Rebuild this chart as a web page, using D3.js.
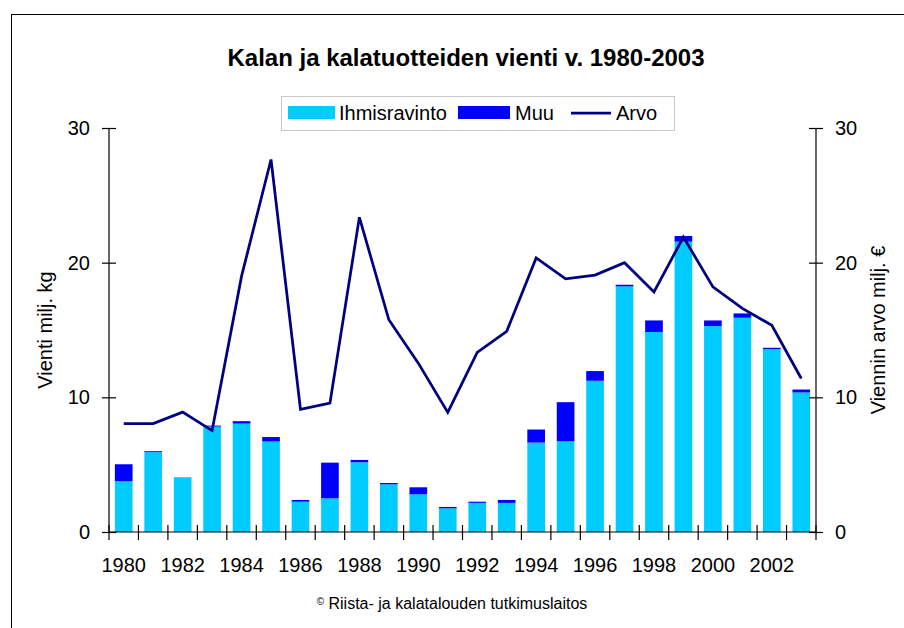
<!DOCTYPE html>
<html>
<head>
<meta charset="utf-8">
<script src="https://cdn.jsdelivr.net/npm/d3@7"></script>
<style>
  body { margin: 0; background: #fff; }
  svg text { font-family: "Liberation Sans", Arial, sans-serif; fill: #000; }
</style>
</head>
<body>
<script>
//chart data
var years = ["1980","1981","1982","1983","1984","1985","1986","1987","1988","1989","1990","1991",
             "1992","1993","1994","1995","1996","1997","1998","1999","2000","2001","2002","2003"];
var yearLabels = ["1980","1982","1984","1986","1988","1990","1992","1994","1996","1998","2000","2002"];
var ihmisravinto = [3.77, 5.93, 4.07, 7.83, 8.05, 6.72, 2.25, 2.5, 5.18, 3.54, 2.8, 1.76,
                    2.16, 2.16, 6.64, 6.74, 11.23, 18.24, 14.85, 21.56, 15.29, 15.91, 13.58, 10.36];
var muu = [1.26, 0.07, 0, 0.07, 0.18, 0.33, 0.13, 2.65, 0.17, 0.1, 0.52, 0.1,
           0.09, 0.22, 0.97, 2.9, 0.72, 0.12, 0.86, 0.42, 0.42, 0.32, 0.1, 0.22];
var arvo = [8.05, 8.05, 8.9, 7.53, 19.0, 27.66, 9.1, 9.57, 23.37, 15.76, 12.54, 8.88,
            13.33, 14.9, 20.35, 18.8, 19.08, 20.0, 17.83, 21.9, 18.2, 16.6, 15.35, 11.4];
var yTicks = [0, 10, 20, 30];

var width = 904, height = 628;
var plotLeft = 109, plotRight = 816, plotTop = 128, plotBottom = 532;

var svg = d3.select("body").append("svg")
    .attr("width", width)
    .attr("height", height);

//outer frame
svg.append("rect")
    .attr("x", 11.5).attr("y", 14.5)
    .attr("width", 910).attr("height", 630)
    .attr("fill", "none").attr("stroke", "#000").attr("stroke-width", 1);

var x = d3.scaleBand().domain(years).range([plotLeft, plotRight]).paddingInner(0.4).paddingOuter(0.2);
var xb = d3.scaleBand().domain(years).range([plotLeft, plotRight]); //full band, for tick positions
var yL = d3.scaleLinear().domain([0, 30]).range([plotBottom, plotTop]);
var yR = d3.scaleLinear().domain([0, 30]).range([plotBottom, plotTop]);

//stacked bars
var rows = years.map(function(y, i){ return {year: y, ihmis: ihmisravinto[i], muu: muu[i]}; });
var stack = d3.stack().keys(["ihmis", "muu"])(rows);
var colors = {ihmis: "#00CCFF", muu: "#0000FF"};

svg.selectAll(".layer")
    .data(stack)
    .enter().append("g")
    .attr("fill", function(d){ return colors[d.key]; })
    .selectAll("rect")
    .data(function(d){ return d; })
    .enter().append("rect")
    .attr("x", function(d){ return x(d.data.year); })
    .attr("width", x.bandwidth())
    .attr("y", function(d){ return yL(d[1]); })
    .attr("height", function(d){ return yL(d[0]) - yL(d[1]); });

//value line
var line = d3.line()
    .x(function(d, i){ return xb(years[i]) + xb.bandwidth() / 2; })
    .y(function(d){ return yR(d); });

svg.append("path")
    .datum(arvo)
    .attr("d", line)
    .attr("fill", "none")
    .attr("stroke", "#000080")
    .attr("stroke-width", 2.75)
    .attr("stroke-linejoin", "miter");

//left axis
var gL = svg.append("g")
    .attr("transform", "translate(" + plotLeft + ",0)")
    .call(d3.axisLeft(yL).tickValues(yTicks).tickSize(7).tickPadding(12));
gL.select(".domain").attr("d", "M0," + plotTop + "V" + plotBottom);
gL.selectAll(".tick line").attr("x1", -7).attr("x2", 7);
gL.selectAll("text").style("font-size", "20px");

//right axis
var gR = svg.append("g")
    .attr("transform", "translate(" + plotRight + ",0)")
    .call(d3.axisRight(yR).tickValues(yTicks).tickSize(7).tickPadding(12));
gR.select(".domain").attr("d", "M0," + plotTop + "V" + plotBottom);
gR.selectAll(".tick line").attr("x1", -7).attr("x2", 7);
gR.selectAll("text").style("font-size", "20px");

svg.selectAll(".domain, .tick line").attr("stroke", "#000").attr("stroke-width", 1.2);

//x axis
svg.append("line")
    .attr("x1", plotLeft).attr("x2", plotRight)
    .attr("y1", plotBottom).attr("y2", plotBottom)
    .attr("stroke", "#000").attr("stroke-width", 1.2);

svg.selectAll(".xtick")
    .data(years.concat(["end"]))
    .enter().append("line")
    .attr("x1", function(d){ return d === "end" ? plotRight : xb(d); })
    .attr("x2", function(d){ return d === "end" ? plotRight : xb(d); })
    .attr("y1", plotBottom - 7).attr("y2", plotBottom + 8)
    .attr("stroke", "#000").attr("stroke-width", 1.2);

svg.selectAll(".xlabel")
    .data(yearLabels)
    .enter().append("text")
    .attr("x", function(d){ return xb(d) + xb.bandwidth() / 2; })
    .attr("y", 572)
    .attr("text-anchor", "middle")
    .style("font-size", "20px")
    .text(function(d){ return d; });

//axis titles
svg.append("text")
    .attr("transform", "translate(52,330) rotate(-90)")
    .attr("text-anchor", "middle")
    .style("font-size", "20px")
    .text("Vienti milj. kg");

svg.append("text")
    .attr("transform", "translate(885,330) rotate(-90)")
    .attr("text-anchor", "middle")
    .style("font-size", "20px")
    .text("Viennin arvo milj. €");

//title
svg.append("text")
    .attr("x", 466).attr("y", 66)
    .attr("text-anchor", "middle")
    .style("font-size", "24px")
    .style("font-weight", "bold")
    .text("Kalan ja kalatuotteiden vienti v. 1980-2003");

//legend
var legend = svg.append("g");
legend.append("rect")
    .attr("x", 281.5).attr("y", 96.5)
    .attr("width", 393).attr("height", 34)
    .attr("fill", "#fff").attr("stroke", "#c8c8c8");

legend.append("rect").attr("x", 288).attr("y", 106).attr("width", 47).attr("height", 13).attr("fill", colors.ihmis);
legend.append("text").attr("x", 339).attr("y", 120).style("font-size", "20px").text("Ihmisravinto");
legend.append("rect").attr("x", 458).attr("y", 106).attr("width", 52).attr("height", 13).attr("fill", colors.muu);
legend.append("text").attr("x", 515).attr("y", 120).style("font-size", "20px").text("Muu");
legend.append("line").attr("x1", 571).attr("x2", 611).attr("y1", 113).attr("y2", 113)
    .attr("stroke", "#000080").attr("stroke-width", 2.75);
legend.append("text").attr("x", 616).attr("y", 120).style("font-size", "20px").text("Arvo");

//source
svg.append("text")
    .attr("x", 452).attr("y", 609)
    .attr("text-anchor", "middle")
    .style("font-size", "16px")
    .html("<tspan font-size='10px' dy='-4'>©</tspan><tspan dy='4'> Riista- ja kalatalouden tutkimuslaitos</tspan>");
</script>
</body>
</html>
